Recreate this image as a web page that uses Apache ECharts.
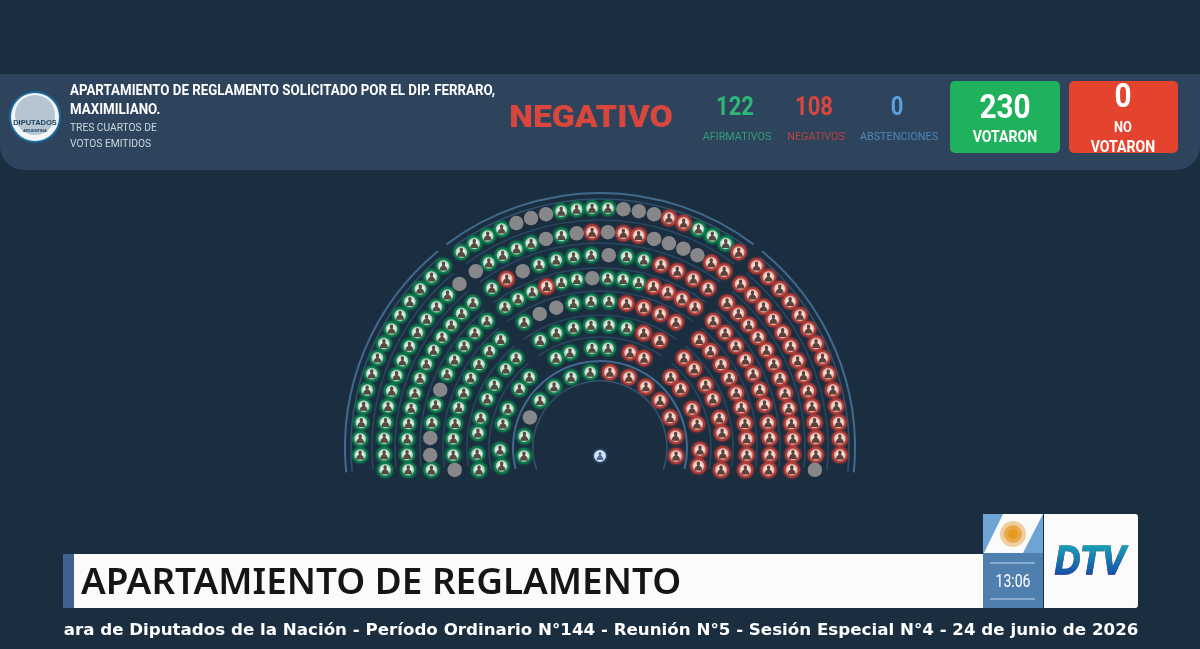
<!DOCTYPE html>
<html><head><meta charset="utf-8">
<style>html,body{margin:0;padding:0;background:#1b2e40}#c{width:1200px;height:649px}</style>
<script src="https://cdn.jsdelivr.net/npm/echarts@6/dist/echarts.min.js"></script>
</head><body><div id="c"></div>
<script>
// ---- texts and tallies
const headline = ['APARTAMIENTO DE REGLAMENTO SOLICITADO POR EL DIP. FERRARO,', 'MAXIMILIANO.'];
const majority = ['TRES CUARTOS DE', 'VOTOS EMITIDOS'];
const result = 'NEGATIVO';
const tallyLabels = ['AFIRMATIVOS', 'NEGATIVOS', 'ABSTENCIONES'];
const tallyValues = [122, 108, 0];
const voted = 230, notVoted = 0;
const lowerTitle = 'APARTAMIENTO DE REGLAMENTO';
const ticker = 'ara de Diputados de la Nación - Período Ordinario N°144 - Reunión N°5 - Sesión Especial N°4 - 24 de junio de 2026';
const clock = '13:06';

// ---- seats: radius of each row, seat angle in degrees (0 = left end, 90 = top, 180 = right end)
const rowRadius = [240, 216, 193, 170, 147, 123, 100, 76.5];
const row1Angles = [-1.7,2.2,6.1,10,14,18,22,25.8,29.7,33.6,37.6,41.5,45.4,49.3,
  54.7,58.4,62.1,65.8,69.6,73.3,77,80.7,84.4,88.1,91.9,95.6,99.3,103,106.7,110.4,114.2,117.9,121.6,125.3,
  130.7,134.6,138.5,142.4,146.4,150.3,154.2,158,162,166,170,173.9,177.8,181.7];
const row2Angles = [-5.8,-1.8,2.6,6.8,11.1,15.3,19.6,23.8,28.1,32.3,36.6,40.8,45.1,49.4,
  54.9,59,63.2,67.3,71.4,75.5,79.7,83.8,87.9,92.1,96.2,100.3,104.5,108.6,112.7,116.8,121,125.1,
  130.6,134.9,139.2,143.4,147.7,151.9,156.2,160.4,164.7,168.9,173.2,177.4,181.8,185.8];
const row3Angles = [-6.5,-1.9,2.7,7.3,11.9,16.5,21.2,25.8,30.4,35,39.6,44.2,48.8,
  55.9,61.1,66.4,71.6,76.9,82.1,87.4,92.6,97.9,103.1,108.4,113.6,118.9,124.1,
  131.2,135.8,140.4,145,149.6,154.2,158.8,163.5,168.1,172.7,177.3,181.9,186.5];
const row4Angles = [-7.4,-2.4,3.4,8.5,14.7,20,25.8,31.2,36.9,42.6,48.3,
  56,61.2,66.5,71.7,76.9,82.2,87.4,92.6,97.8,103.1,108.3,113.5,118.8,124,
  131.7,137.4,143.1,148.8,154.2,160,165.3,171.5,176.6,182.4,187.4];
const row5Angles = [-8.6,-2.7,3.6,9.6,16,22,28.4,34.6,41.3,47.5,
  58.9,65.8,72.7,79.6,86.5,93.5,100.4,107.3,114.2,121.1,
  132.5,138.7,145.4,151.6,158,164,170.4,176.4,182.7,188.6];
const row6Angles = [-10.3,-2.8,7,14.1,23.5,30.8,40,47,
  60.9,69.2,77.5,85.8,94.2,102.5,110.8,119.1,
  133,140,149.2,156.5,165.9,173,182.8,190.3];
const row7Angles = [-10.4,-1.2,13.9,23,36.3,45,
  63.9,72.5,85.4,94.6,107.5,116.1,
  135,143.7,157,166.1,181.2,190.4];
const row8Angles = [-6,8.8,23.5,38.3,53.1,67.8,82.6,97.4,112.2,126.9,141.7,156.5,171.2,186];
const rowAngles = [row1Angles,row2Angles,row3Angles,row4Angles,row5Angles,row6Angles,row7Angles,row8Angles];

// A = afirmativo, N = negativo, X = no voto (one letter per seat, same order as the angles)
const row1Votes = 'AAAAAAAAAAAAAA'+'AAAAXXXAAAAXXXNNAAAN'+'NNNNNNNNNNNNNN';
const row2Votes = 'AAAAAAAAAAAAAX'+'XAAAAXAXNXNNXXXXNN'+'NNNNNNNNNNNNNX';
const row3Votes = 'AAAAAAAAAAAAA'+'ANXAAAAXAANNNN'+'NNNNNNNNNNNNN';
const row4Votes = 'AXXAAXAAAAA'+'AAANAAXAAANNNN'+'NNNNNNNNNNN';
const row5Votes = 'XAAAAAAAAA'+'AXXAAANNNN'+'NNNNNNNNNN';
const row6Votes = 'AAAAAAAA'+'AAAAAANN'+'NNNNNNNN';
const row7Votes = 'AAAAAA'+'AAAANN'+'NNNNNN';
const row8Votes = 'AAXAAAA'+'NNNNNNN';
const rowVotes = [row1Votes,row2Votes,row3Votes,row4Votes,row5Votes,row6Votes,row7Votes,row8Votes];
const presidentSeat = [[8,-90]];

// ---- curved separators: radius, from angle, to angle, strength
const arcs = [
  [255,-5.5,50.6,2],[255,53,127,2],[255,129.4,185.5,2],
  [249,-5.5,50,1],[249,54,126,1],[249,130,185.5,1],
  [228,-5.5,50,0],[228,54,126,0],[228,130,185.5,0],
  [205,-5.5,50,0],[205,54,126,0],[205,130,185.5,0],
  [180,-6,50,0],[180,54,126,0],[180,130,186,0],
  [157,-7,50,0],[157,54,126,0],[157,130,187,0],
  [133,-8,50,0],[133,55,125,0],[133,130,188,0],
  [111,-11,50,0],[111,56,124,0],[111,130,191,0],
  [87,-14,194,2],[67,-19,199,1]
];
const arcColors = ['#2a4860','#33536f','#426a90'];

const seatsOf = code => {
  const out = [];
  rowVotes.forEach((votes, r) => {
    for (let i = 0; i < votes.length; i++) if (votes[i] === code) out.push([rowRadius[r], rowAngles[r][i]]);
  });
  return out;
};
const ayes = seatsOf('A'), noes = seatsOf('N'), absent = seatsOf('X');
const person = 'path://M50 6a21 23 0 1 0 .01 0zM50 46C20 46 6 72 2 100h96C94 72 80 46 50 46z';

const seat = (name, data, fill, ring) => ({
  name, type:'scatter', coordinateSystem:'polar', data, symbol:'circle', symbolSize:14, silent:true, z:4,
  itemStyle:{color:fill, borderColor:ring, borderWidth:2, shadowColor:ring, shadowBlur:3, opacity:1}
});
const face = (name, data, color) => ({
  name, type:'scatter', coordinateSystem:'polar', data, symbol:person, symbolSize:[8,9], silent:true, z:5,
  itemStyle:{color, opacity:0.88}
});

const ROBOTO = '"Roboto",sans-serif';
const T = (text,x,y,size,fill,opt={}) => ({
  type:'text', z:20, x, y, scaleX:opt.sx||1, silent:true,
  style:{text, x:0, y:0, fill, align:opt.align||'center', verticalAlign:'middle',
    font:`${opt.weight||'bold'} ${size}px ${opt.family||ROBOTO}`}
});
const R = (x,y,w,h,fill,r=0,z=10) => ({type:'rect', z, silent:true, shape:{x,y,width:w,height:h,r}, style:{fill}});
const C = (cx,cy,r,fill,z=12,stroke,lw) => ({type:'circle', z, silent:true, shape:{cx,cy,r}, style:{fill,stroke,lineWidth:lw}});

const tallyX = [735,814,897], labelX = [737,816,899];
const tallyColors = ['#2fb777','#d9463f','#5b9fdc'], labelColors = ['#2f9f7a','#b8423f','#4d86ba'];

const graphics = [
  R(0,74,1200,96,'#2e445d',[0,0,24,24],8),
  // seal
  C(35,117,26,'#1a6a9c',9),
  C(35,117,24,'#f2f6f8',10),
  C(35,115,20,'#b5c6d2',11),
  T('DIPUTADOS',35,123,7.5,'#22415e',{family:'"Liberation Sans",sans-serif'}),
  T('ARGENTINA',35,131,4,'#22415e',{family:'"Liberation Sans",sans-serif'}),
  T(headline[0],70,91,14,'#ffffff',{align:'left',sx:0.95}),
  T(headline[1],70,110,14,'#ffffff',{align:'left',sx:0.95}),
  T(majority[0],70,128,11,'#cfd8e0',{align:'left',weight:'normal',sx:0.93}),
  T(majority[1],70,144.5,11,'#cfd8e0',{align:'left',weight:'normal',sx:0.93}),
  T(result,591,119,31,'#d9473c',{weight:'900',sx:1.09}),
  ...tallyValues.map((v,i)=>T(String(v),tallyX[i],109,25,tallyColors[i],{sx:0.88})),
  ...tallyLabels.map((l,i)=>T(l,labelX[i],137,11.5,labelColors[i],{weight:'normal',sx:0.94})),
  R(950,81,110,72,'#20b15c',5),
  T(String(voted),1005,109.5,33,'#ffffff',{sx:0.9}),
  T('VOTARON',1005,138,16,'#ffffff',{sx:0.88}),
  R(1069,81,109,72,'#e4432e',5),
  T(String(notVoted),1123,99,33,'#ffffff',{sx:0.9}),
  T('NO',1123,128,14.5,'#ffffff',{sx:0.88}),
  T('VOTARON',1123,148,16,'#ffffff',{sx:0.88}),
  // lower third
  R(63,554,11,54,'#3f6390'),
  R(74,554,909,54,'#fbfbfb'),
  T(lowerTitle,81,584,36.5,'#151515',{align:'left',weight:'600',family:'"Noto Sans","Open Sans",sans-serif',sx:1.01}),
  R(983,514,60,39,'#6ea3d4'),
  {type:'polygon',z:11,silent:true,shape:{points:[[1003,514],[1043,514],[1023,553],[984,553]]},style:{fill:'#fbfbfb'}},
  C(1013,534,13,'#efcfa0'),C(1013,534,9,'#e9a94a',13),C(1013,534,5,'#e8971f',14),
  R(983,553,60,55,'#4f7fae'),
  R(990,562,45,2,'#86abcf',0,12),R(990,598,45,2,'#86abcf',0,12),
  T(clock,1013,582,18.5,'#ffffff',{weight:'normal',sx:0.76}),
  R(1044,514,94,94,'#fbfbfb',[0,3,3,0]),
  {type:'text',z:20,x:1090,y:563,scaleX:0.86,silent:true,style:{text:'DTV',x:0,y:0,align:'center',verticalAlign:'middle',
    font:'italic bold 41px "Liberation Sans",sans-serif', fill:'#000000', stroke:'#000000', lineWidth:1.5}},
  {type:'rect',z:21,silent:true,shape:{x:1050,y:544,width:82,height:37},
   style:{blend:'lighten',fill:{type:'linear',x:0,y:0,x2:0,y2:1,colorStops:[{offset:0,color:'#19a3b5'},{offset:1,color:'#123fa8'}]}}},
  T(ticker,601,630.5,15.5,'#ffffff',{family:'"DejaVu Sans",sans-serif',sx:1.076})
];

const chart = echarts.init(document.getElementById('c'));
chart.setOption({
  animation:false,
  backgroundColor:'#1b2e40',
  polar:{center:[600,448], radius:260},
  angleAxis:{type:'value', min:-90, max:270, startAngle:270, clockwise:true, show:false},
  radiusAxis:{type:'value', min:0, max:260, show:false},
  tooltip:{show:false},
  series:[
    {name:'separadores', type:'custom', coordinateSystem:'polar', silent:true, z:2, data:arcs,
     encode:{radius:0, angle:1},
     renderItem:(params, api) => {
       const cs = params.coordSys;
       const p = api.coord([api.value(0), 90]);
       const r = Math.hypot(p[0]-cs.cx, p[1]-cs.cy);
       const s = api.value(3);
       return {type:'arc', shape:{cx:cs.cx, cy:cs.cy, r,
         startAngle:(180+api.value(1))*Math.PI/180, endAngle:(180+api.value(2))*Math.PI/180, clockwise:true},
         style:{fill:null, stroke:arcColors[s], lineWidth:s===2?2:1.5}};
     }},
    seat('Afirmativos', ayes, '#eef4ee', '#0e7a4c'),
    seat('Negativos', noes, '#f7e8e0', '#b23c36'),
    {name:'No votaron', type:'scatter', coordinateSystem:'polar', data:absent, symbol:'circle', symbolSize:14.5, silent:true, z:4,
     itemStyle:{color:'#87878a', opacity:1}},
    face('Afirmativos rostro', ayes, '#3f3629'),
    face('Negativos rostro', noes, '#4a2a22'),
    {name:'Presidencia', type:'scatter', coordinateSystem:'polar', data:presidentSeat, symbol:'circle', symbolSize:14, silent:true, z:4,
     itemStyle:{color:'#d8e2ee', borderColor:'#24405e', borderWidth:2, opacity:1}},
    {name:'Presidencia rostro', type:'scatter', coordinateSystem:'polar', data:presidentSeat, symbol:person, symbolSize:[7,8], silent:true, z:5,
     itemStyle:{color:'#4d6f9c', opacity:1}}
  ],
  graphic:{elements:graphics}
});
</script></body></html>
